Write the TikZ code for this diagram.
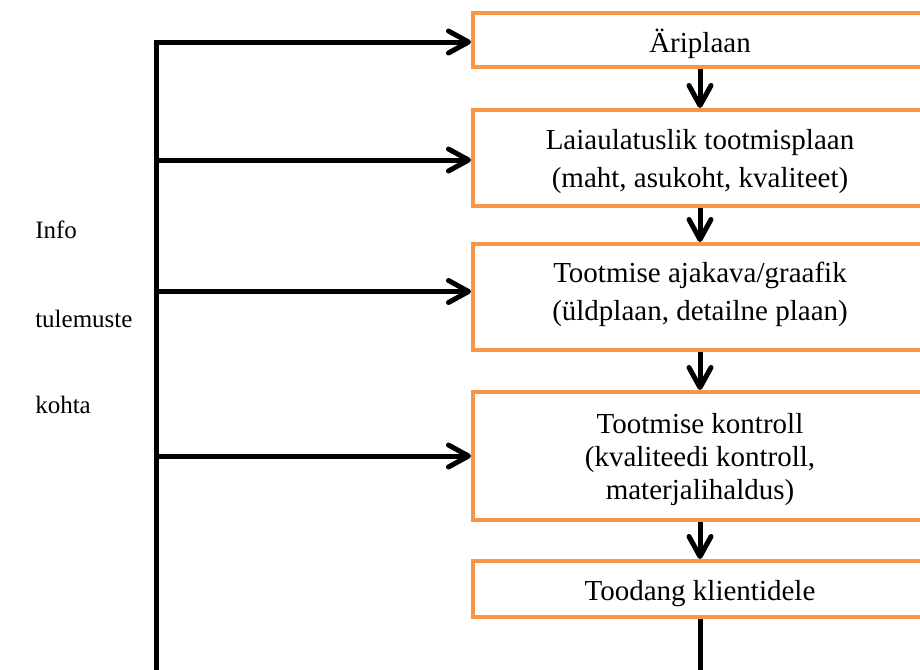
\documentclass[tikz,border=0pt]{standalone}
\usepackage{fontspec}
\setmainfont{Liberation Serif}
\usetikzlibrary{arrows.meta}
\definecolor{boxorange}{HTML}{F79646}
\begin{document}
\begin{tikzpicture}[x=0.75pt,y=-0.75pt,
  box/.style={draw=boxorange, line width=3pt, fill=white,
    minimum width=340.5pt, inner sep=0pt, align=center,
    text depth=0pt, font=\fontsize{21.75}{28.1}\selectfont},
  flow/.style={line width=3.75pt,
    -{Straight Barb[length=15pt,width=16.5pt,round]}},
  side/.style={anchor=base west, inner sep=0pt,
    font=\fontsize{18.75}{22}\selectfont}
]
\clip (0,0) rectangle (920,669);

% planning chain
\node[box, minimum height=40.5pt, text height=18pt]
  (plan) at (700,40) {Äriplaan};
\node[box, minimum height=72pt, text height=43.5pt]
  (scope) at (700,158) {Laiaulatuslik tootmisplaan\\(maht, asukoht, kvaliteet)};
\node[box, minimum height=79.5pt, text height=34.5pt]
  (sched) at (700,297) {Tootmise ajakava/graafik\\(üldplaan, detailne plaan)};
\node[box, minimum height=96pt, text height=64.5pt,
      font=\fontsize{21.75}{24.75}\selectfont]
  (control) at (700,456) {Tootmise kontroll\\(kvaliteedi kontroll,\\materjalihaldus)};
\node[box, minimum height=42pt, text height=16.5pt]
  (output) at (700,589) {Toodang klientidele};

% feedback spine on the left
\coordinate (base) at (156,680);
\coordinate (s1) at (156,42);
\coordinate (s2) at (156,160);
\coordinate (s3) at (156,291.5);
\coordinate (s4) at (156,456);

\draw[flow, line join=miter] (base) -- (s1) -- (s1 -| plan.west);
\draw[flow] (s2) -- (s2 -| scope.west);
\draw[flow] (s3) -- (s3 -| sched.west);
\draw[flow] (s4) -- (s4 -| control.west);

% downward flow
\draw[flow] (plan.south) -- (scope.north);
\draw[flow] (scope.south) -- (sched.north);
\draw[flow] (sched.south) -- (control.north);
\draw[flow] (control.south) -- (output.north);
\draw[line width=3.75pt] (output.south) -- (output.south |- base);

% side caption
\node[side] (info) at (35,238) {Info};
\node[side] (results) at (35,327) {tulemuste};
\node[side] (about) at (35,413) {kohta};
\end{tikzpicture}
\end{document}
